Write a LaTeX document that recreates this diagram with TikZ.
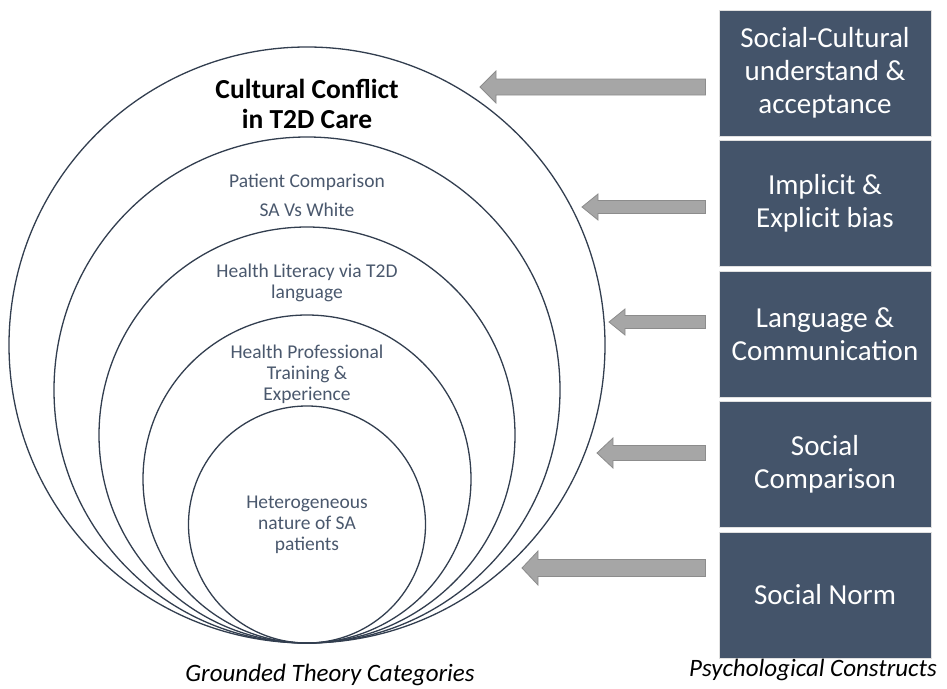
\documentclass[tikz,border=0pt]{standalone}
\usepackage{fontspec}
\setmainfont{Carlito}
\usepackage{tikz}
\usetikzlibrary{positioning,calc}
\definecolor{boxblue}{HTML}{44546A}
\definecolor{ringline}{HTML}{323E4F}
\definecolor{ringtext}{HTML}{4A586D}
\definecolor{arrowfill}{HTML}{A6A6A6}
\definecolor{arrowedge}{HTML}{8C8C8C}
\tikzset{
  ring/.style={circle, draw=ringline, line width=1.3pt, inner sep=0pt},
  ringlabel/.style={align=center, text=ringtext, font=\fontsize{19.5}{21}\selectfont},
  construct/.style={fill=boxblue, draw=black!12, line width=1pt, text=white,
    minimum width=212pt, minimum height=126pt, align=center,
    font=\fontsize{29}{33}\selectfont},
  blockarrow/.style={fill=arrowfill, draw=arrowedge, line width=0.8pt},
  caption/.style={font=\fontsize{25}{28}\selectfont\itshape}
}

\begin{document}
\begin{tikzpicture}[x=1pt, y=-1pt]
    \useasboundingbox (0,0) rectangle (947,688);

    % nested categories, all touching at the bottom
    \foreach \r [count=\i] in {298,253,208,164,118.5}
      \node[ring, minimum size=2*\r pt] (c\i) at (307,643-\r) {};

    \node[align=center, font=\fontsize{27.5}{30}\selectfont\bfseries] (title) at (307,104)
      {Cultural Conflict\\in T2D Care};
    \node[ringlabel, font=\fontsize{19.5}{29}\selectfont] (compare) at (307,195)
      {Patient Comparison\\SA Vs White};
    \node[ringlabel] (literacy) at (307,283) {Health Literacy via T2D\\language};
    \node[ringlabel] (training) at (307,374) {Health Professional\\Training \&\\Experience};
    \node[ringlabel] (hetero) at (307,525) {Heterogeneous\\nature of SA\\patients};

    % psychological constructs
    \node[construct] (b1) at (825,73) {Social-Cultural\\understand \&\\acceptance};
    \node[construct, below=3.5pt of b1] (b2) {Implicit \&\\Explicit bias};
    \node[construct, below=3.5pt of b2] (b3) {Language \&\\Communication};
    \node[construct, below=3.5pt of b3] (b4) {Social\\Comparison};
    \node[construct, below=3.5pt of b4] (b5) {Social Norm};

    % arrows from each construct towards the rings
    \foreach \i/\tipx/\y/\w in {1/480/87/8, 2/582/207/6.5, 3/609/322/6.5, 4/597/453/7.5, 5/522/568/8.5} {
      \coordinate (p\i) at (\tipx,\y);
      \coordinate (q\i) at ([xshift=-13pt]b\i.west |- p\i);
      \draw[blockarrow] (p\i) -- ++(16,-2*\w) -- ++(0,\w) -- ($(q\i)+(0,-\w)$)
        -- ($(q\i)+(0,\w)$) -- ($(p\i)+(16,\w)$) -- ++(0,\w) -- cycle;
    }

    \node[caption] (gtc) at (330,675) {Grounded Theory Categories};
    \node[caption] (pc) at (813,670) {Psychological Constructs};
\end{tikzpicture}
\end{document}
